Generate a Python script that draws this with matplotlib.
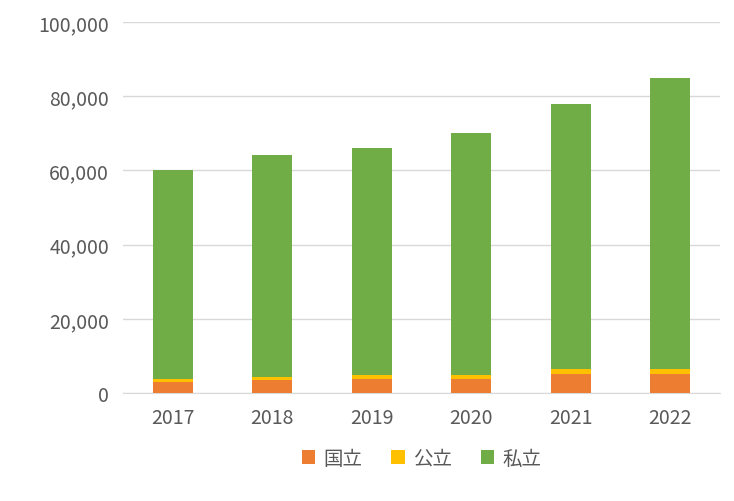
import matplotlib
matplotlib.use("Agg")
import matplotlib.pyplot as plt
from matplotlib.ticker import FuncFormatter

years = ["2017", "2018", "2019", "2020", "2021", "2022"]
national = [2900, 3400, 3700, 3700, 5000, 5000]
public = [800, 800, 1200, 1200, 1400, 1400]
private = [56300, 60000, 61100, 65200, 71500, 78500]

plt.rcParams["font.family"] = ["Noto Sans CJK JP"]
fig = plt.figure(figsize=(7.34, 5.02), dpi=100)
ax = fig.add_axes([123/734, 1-394/502, (720-123)/734, (394-23)/502])
x = range(len(years))
b1 = [n + p for n, p in zip(national, public)]
ax.bar(x, national, 0.4, color="#ED7D31", label="国立", zorder=3)
ax.bar(x, public, 0.4, bottom=national, color="#FFC000", label="公立", zorder=3)
ax.bar(x, private, 0.4, bottom=b1, color="#70AD47", label="私立", zorder=3)
ax.set_ylim(0, 100000)
ax.set_xlim(-0.5, 5.5)
ax.set_yticks(range(0, 100001, 20000))
ax.yaxis.set_major_formatter(FuncFormatter(lambda v, p: f"{int(v):,}"))
ax.set_xticks(list(x))
ax.set_xticklabels(years)
ax.grid(axis="y", color="#D9D9D9", linewidth=1, zorder=0)
for s in ["top", "right", "left"]:
    ax.spines[s].set_visible(False)
ax.spines["bottom"].set_color("#D9D9D9")
ax.tick_params(length=0, labelsize=14, colors="#595959", pad=10)
ax.legend(loc="upper center", bbox_to_anchor=(0.5, -0.1), ncol=3, frameon=False,
          fontsize=14, labelcolor="#595959", handlelength=0.7, handleheight=0.7,
          columnspacing=1.5, handletextpad=0.4)
fig.savefig("out.png", dpi=100)
